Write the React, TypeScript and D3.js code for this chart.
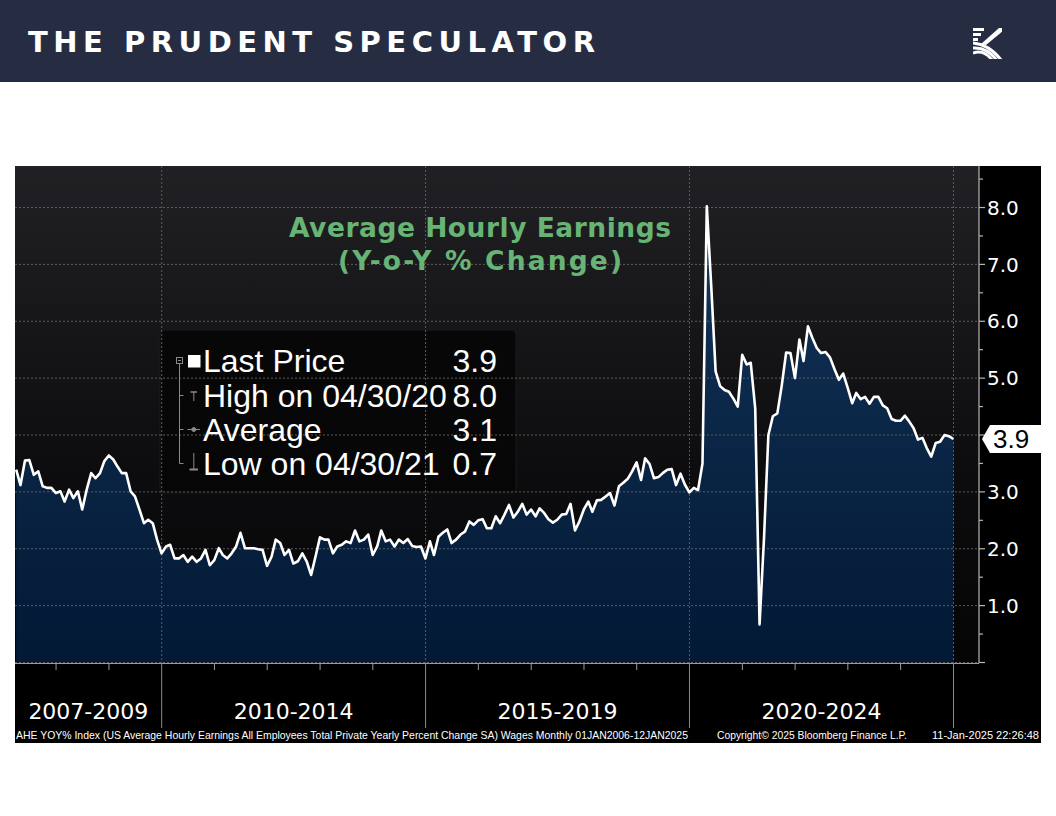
import React from "react";
import * as d3 from "d3";

// ---- Data: AHE YoY % (monthly, month-end), Mar 2007 .. Dec 2024 ----
const firstYear = 2007;
const firstMonth = 2; // March (0-based)
const v2007 = [3.39, 3.12, 3.55, 3.56, 3.3, 3.36, 3.1, 3.07, 3.07, 2.98];
const v2008 = [3.01, 2.83, 3.04, 2.89, 3.01, 2.69, 3.04, 3.33, 3.24, 3.33, 3.54, 3.64];
const v2009 = [3.57, 3.45, 3.33, 3.33, 3.01, 2.92, 2.69, 2.45, 2.51, 2.45, 2.16, 1.92];
const v2010 = [2.04, 2.07, 1.83, 1.83, 1.89, 1.77, 1.86, 1.77, 1.83, 1.98, 1.71, 1.8];
const v2011 = [2.01, 1.89, 1.83, 1.92, 2.04, 2.28, 2.01, 2.01, 2.01, 1.99, 1.98, 1.7];
const v2012 = [1.86, 2.16, 2.1, 1.89, 1.98, 1.74, 1.78, 1.92, 1.78, 1.54, 1.86, 2.2];
const v2013 = [2.16, 2.16, 1.92, 2.04, 2.07, 2.13, 2.1, 2.32, 2.13, 2.16, 2.25, 1.89];
const v2014 = [2.04, 2.32, 2.13, 2.16, 2.04, 2.16, 2.1, 2.17, 2.05, 2.03, 2.04, 1.83];
const v2015 = [2.13, 1.89, 2.21, 2.28, 2.34, 2.1, 2.16, 2.25, 2.3, 2.48, 2.42, 2.5];
const v2016 = [2.52, 2.36, 2.36, 2.57, 2.45, 2.6, 2.77, 2.55, 2.65, 2.79, 2.6, 2.69];
const v2017 = [2.57, 2.71, 2.63, 2.52, 2.46, 2.51, 2.6, 2.61, 2.79, 2.32, 2.48, 2.69];
const v2018 = [2.83, 2.65, 2.85, 2.86, 2.92, 2.98, 2.76, 3.1, 3.16, 3.23, 3.36, 3.52];
const v2019 = [3.21, 3.59, 3.49, 3.24, 3.26, 3.33, 3.39, 3.4, 3.12, 3.32, 3.13, 2.99];
const v2020 = [3.07, 3.03, 3.5, 8.02, 6.6, 5.12, 4.86, 4.79, 4.76, 4.64, 4.5, 5.41];
const v2021 = [5.24, 5.27, 4.47, 0.67, 2.2, 4.0, 4.33, 4.38, 4.86, 5.45, 5.44, 5.0];
const v2022 = [5.68, 5.3, 5.91, 5.71, 5.53, 5.44, 5.46, 5.36, 5.16, 4.97, 5.08, 4.83];
const v2023 = [4.56, 4.74, 4.63, 4.67, 4.55, 4.67, 4.67, 4.52, 4.47, 4.28, 4.25, 4.25];
const v2024 = [4.34, 4.24, 4.12, 3.92, 3.95, 3.77, 3.62, 3.86, 3.88, 4.0, 3.98, 3.93];

const yTicks = [1, 2, 3, 4, 5, 6, 7, 8];
const periodLabels = ["2007-2009", "2010-2014", "2015-2019", "2020-2024"];
const periodBreakYears = [2010, 2015, 2020, 2025];
const legendLabels = ["Last Price", "High on 04/30/20", "Average", "Low on 04/30/21"];
const legendValues = ["3.9", "8.0", "3.1", "0.7"];
const titleLines = ["Average Hourly Earnings", "(Y-o-Y % Change)"];
const footerSource =
  "AHE YOY% Index (US Average Hourly Earnings All Employees Total Private Yearly Percent Change SA) Wages  Monthly 01JAN2006-12JAN2025";
const footerCopyright = "Copyright\u00A9 2025 Bloomberg Finance L.P.";
const footerStamp = "11-Jan-2025 22:26:48";
const brand = "THE PRUDENT SPECULATOR";

const allValues = [
  ...v2007, ...v2008, ...v2009, ...v2010, ...v2011, ...v2012, ...v2013, ...v2014, ...v2015,
  ...v2016, ...v2017, ...v2018, ...v2019, ...v2020, ...v2021, ...v2022, ...v2023, ...v2024,
];
const series = allValues.map((v, i) => ({
  date: new Date(firstYear, firstMonth + i + 1, 0),
  value: v,
}));

export default function App() {
  const W = 1056;
  const H = 816;
  const chartL = 15;
  const chartR = 1041;
  const chartT = 166;
  const chartB = 743;
  const plotR = 979;
  const plotB = 663;

  const x = d3
    .scaleTime()
    .domain([new Date(2010, 0, 1), new Date(2025, 0, 1)])
    .range([161.7, 953.5]);
  const y = d3.scaleLinear().domain([0, 8.73]).range([662.5, 166]);

  const area = d3
    .area<{ date: Date; value: number }>()
    .x((d) => x(d.date))
    .y0(y(0))
    .y1((d) => y(d.value));
  const line = d3
    .line<{ date: Date; value: number }>()
    .x((d) => x(d.date))
    .y((d) => y(d.value));

  const fmt = d3.format(".1f");
  const halfTicks = d3.range(0, 8.75, 0.5);
  const yearTicks = d3.range(2008, 2025).filter((yy) => !periodBreakYears.includes(yy));
  const breaksX = periodBreakYears.map((yy) => x(new Date(yy, 0, 1)));
  const bounds = [chartL, ...breaksX];
  const last = series[series.length - 1];
  const ly = y(last.value);
  const shownTicks = yTicks.filter((t) => Math.abs(y(t) - ly) > 18);

  const grid = "#5c5c5c";
  const sym = "#8a8a8a";
  const rowBase = [372, 407, 441, 475];

  return (
    <svg
      width={W}
      height={H}
      style={{ position: "absolute", left: 0, top: 0, display: "block" }}
      xmlns="http://www.w3.org/2000/svg"
    >
      <defs>
        <linearGradient id="bgGrad" x1="0" y1="0" x2="0" y2="1">
          <stop offset="0" stopColor="#212125" />
          <stop offset="0.6" stopColor="#0d0d0f" />
          <stop offset="1" stopColor="#050506" />
        </linearGradient>
        <linearGradient id="areaGrad" gradientUnits="userSpaceOnUse" x1="0" y1={chartT} x2="0" y2={plotB}>
          <stop offset="0" stopColor="#163a62" />
          <stop offset="0.5" stopColor="#0b2748" />
          <stop offset="1" stopColor="#031935" />
        </linearGradient>
        <clipPath id="plotClip">
          <rect x={chartL} y={chartT} width={plotR - chartL} height={plotB - chartT} />
        </clipPath>
        <clipPath id="logoClip">
          <rect x={973} y={28} width={29} height={31} />
        </clipPath>
      </defs>

      <rect x={0} y={0} width={W} height={H} fill="#ffffff" />

      {/* Header */}
      <rect x={0} y={0} width={W} height={82} fill="#262d42" />
      <text
        x={28}
        y={52}
        fill="#ffffff"
        fontFamily="'DejaVu Sans', sans-serif"
        fontWeight="bold"
        fontSize={29}
        textLength={567}
        lengthAdjust="spacing"
      >
        {brand}
      </text>
      <g clipPath="url(#logoClip)" fill="#ffffff">
        {/* striped K mark */}
        {[0, 5, 10].map((o) => (
          <rect key={"s" + o} x={973} y={28 + o} width={11 - o * 0.6} height={3} />
        ))}
        <polygon points="981,44 999,28 1003,28 1003,31 986,45" />
        {[0, 5, 10].map((o) => (
          <path
            key={"c" + o}
            d={`M973,${43 + o} Q${990 - o * 0.6},${45 + o * 0.4} ${1001 - o * 0.9},60`}
            fill="none"
            stroke="#ffffff"
            strokeWidth={3}
          />
        ))}
      </g>

      {/* Chart frame */}
      <rect x={chartL} y={chartT} width={chartR - chartL} height={chartB - chartT} fill="#000000" />
      <rect x={chartL} y={chartT} width={plotR - chartL} height={plotB - chartT} fill="url(#bgGrad)" />

      {/* Area */}
      <g clipPath="url(#plotClip)">
        <path d={area(series) || ""} fill="url(#areaGrad)" />
      </g>

      {/* Legend box */}
      <rect x={160} y={330} width={356} height={163} rx={4} fill="#060606" fillOpacity={0.93} stroke="#1b1b1b" />

      {/* Gridlines */}
      <g stroke={grid} strokeWidth={1} strokeDasharray="2,2">
        {[0, ...yTicks].map((t) => (
          <line key={"h" + t} x1={chartL} x2={plotR} y1={y(t)} y2={y(t)} />
        ))}
        {breaksX.map((bx, i) => (
          <line key={"v" + i} x1={bx} x2={bx} y1={chartT} y2={plotB} />
        ))}
      </g>

      {/* Line */}
      <g clipPath="url(#plotClip)">
        <path d={line(series) || ""} fill="none" stroke="#ffffff" strokeWidth={2.6} strokeLinejoin="round" />
      </g>

      {/* Title */}
      {titleLines.map((t, i) => (
        <text
          key={t}
          x={480}
          y={i === 0 ? 237 : 270}
          textAnchor="middle"
          fill="#67b474"
          fontFamily="'DejaVu Sans', Verdana, sans-serif"
          fontWeight="bold"
          fontSize={26.5}
          textLength={i === 0 ? 382 : 284}
          lengthAdjust="spacing"
        >
          {t}
        </text>
      ))}

      {/* Legend contents */}
      <g stroke={sym} strokeWidth={1} fill="none">
        <rect x={176.5} y={357.5} width={6} height={6} />
        <line x1={178} x2={181} y1={360.5} y2={360.5} />
        <line x1={179.5} x2={179.5} y1={364} y2={463.5} />
        {[395.5, 429.5, 463.5].map((yy) => (
          <line key={yy} x1={179.5} x2={183.5} y1={yy} y2={yy} />
        ))}
        <line x1={190.5} x2={197} y1={392} y2={392} strokeWidth={1.5} />
        <line x1={193.8} x2={193.8} y1={392} y2={401} />
        <line x1={187.5} x2={200} y1={429.5} y2={429.5} />
        <circle cx={193.8} cy={429.5} r={2} fill={sym} />
        <line x1={193.8} x2={193.8} y1={453} y2={469} />
        <line x1={189.5} x2={198} y1={469.5} y2={469.5} strokeWidth={2} />
      </g>
      <rect x={188} y={355} width={12.5} height={12.5} fill="#ffffff" />
      {legendLabels.map((lab, i) => (
        <g key={lab} fontFamily="'Liberation Sans', Arial, sans-serif" fontSize={32} fill="#ffffff">
          <text x={203} y={rowBase[i]}>{lab}</text>
          <text x={497} y={rowBase[i]} textAnchor="end">{legendValues[i]}</text>
        </g>
      ))}

      {/* Right axis */}
      <line x1={plotR} x2={plotR} y1={chartT} y2={plotB} stroke="#b5b5b5" strokeWidth={1.2} />
      {halfTicks.map((t) => (
        <line
          key={"t" + t}
          x1={plotR}
          x2={plotR + (Number.isInteger(t) ? 6 : 4)}
          y1={y(t)}
          y2={y(t)}
          stroke="#b5b5b5"
          strokeWidth={1.2}
        />
      ))}
      {shownTicks.map((t) => (
        <text
          key={"l" + t}
          x={987}
          y={y(t) + 7.2}
          fill="#ffffff"
          fontFamily="'DejaVu Sans', Verdana, sans-serif"
          fontSize={20}
        >
          {fmt(t)}
        </text>
      ))}

      {/* Last price tag */}
      <path
        d={`M${plotR + 3},${ly} L${plotR + 11},${ly - 14} L${chartR},${ly - 14} L${chartR},${ly + 14} L${plotR + 11},${ly + 14} Z`}
        fill="#ffffff"
      />
      <text x={993} y={ly + 9.5} fill="#000000" fontFamily="'Liberation Sans', Arial, sans-serif" fontSize={26}>
        {fmt(last.value)}
      </text>

      {/* Bottom axis */}
      <line x1={chartL} x2={plotR} y1={plotB + 0.5} y2={plotB + 0.5} stroke="#9c9c9c" strokeWidth={1} />
      {yearTicks.map((yy) => {
        const tx = x(new Date(yy, 0, 1));
        return <line key={"yt" + yy} x1={tx} x2={tx} y1={plotB} y2={plotB + 7} stroke="#9c9c9c" strokeWidth={1} />;
      })}
      {breaksX.map((bx, i) => (
        <line key={"sep" + i} x1={bx} x2={bx} y1={plotB} y2={728} stroke="#8a8a8a" strokeWidth={1} />
      ))}
      {periodLabels.map((lab, i) => (
        <text
          key={lab}
          x={(bounds[i] + bounds[i + 1]) / 2}
          y={719}
          textAnchor="middle"
          fill="#ffffff"
          fontFamily="'DejaVu Sans', Verdana, sans-serif"
          fontSize={22}
        >
          {lab}
        </text>
      ))}

      {/* Footer */}
      <g fill="#ffffff" fontFamily="'Liberation Sans', Arial, sans-serif" fontSize={10.5}>
        <text x={16} y={739} textLength={672} lengthAdjust="spacingAndGlyphs">
          {footerSource}
        </text>
        <text x={717} y={739} textLength={190} lengthAdjust="spacingAndGlyphs">
          {footerCopyright}
        </text>
        <text x={932} y={739} textLength={107} lengthAdjust="spacingAndGlyphs">
          {footerStamp}
        </text>
      </g>
    </svg>
  );
}
